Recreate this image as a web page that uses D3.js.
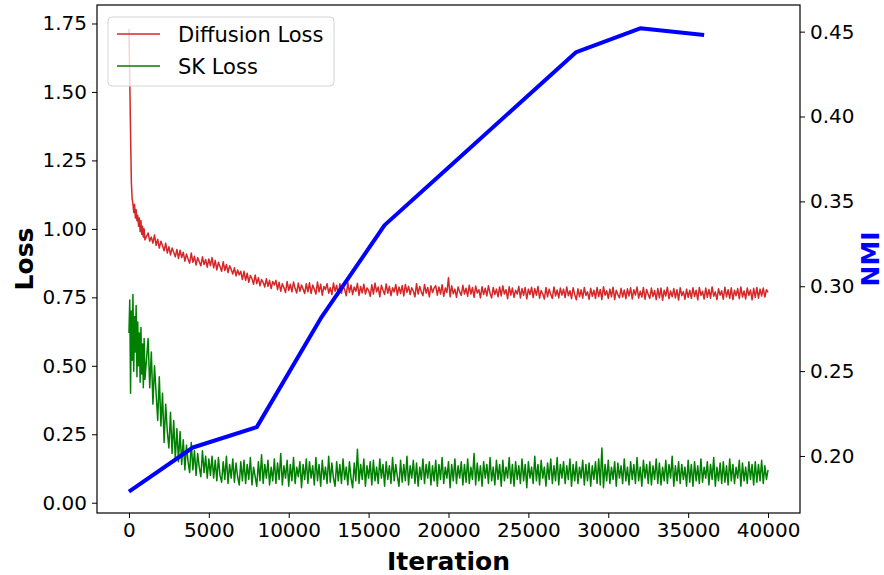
<!DOCTYPE html>
<html>
<head>
<meta charset="utf-8">
<script src="https://cdn.jsdelivr.net/npm/d3@7"></script>
<style>
  body { margin: 0; background: #fff; }
  text { font-family: "DejaVu Sans", sans-serif; }
</style>
</head>
<body>
<div id="canvas"></div>
<script>
// iterations: every 50 up to 1000, then every 100
const iterations = d3.range(0, 1001, 50).concat(d3.range(1200, 40001, 100));

const diffusionLoss = [
  1.73, 1.55, 1.35, 1.17, 1.11, 1.09, 1.06, 1.09, 1.04, 1.07, 1.03, 1.05, 1.01, 1.04, 0.99, 1.03, 0.98, 1.01, 0.97, 1.00, 0.96,
  0.985, 0.955, 0.970, 0.948, 0.978, 0.940, 0.962, 0.930, 0.955, 0.938, 0.920, 0.948, 0.912, 0.935, 0.905, 0.930, 0.915, 0.898, 0.925, 0.892,
  0.922, 0.895, 0.915, 0.882, 0.908, 0.890, 0.875, 0.912, 0.878, 0.900, 0.868, 0.895, 0.880, 0.865, 0.898, 0.870, 0.888, 0.860, 0.890, 0.866,
  0.895, 0.858, 0.885, 0.850, 0.878, 0.862, 0.845, 0.880, 0.848, 0.870, 0.840, 0.865, 0.852, 0.835, 0.858, 0.828, 0.850, 0.832, 0.845, 0.815,
  0.845, 0.812, 0.838, 0.805, 0.830, 0.818, 0.798, 0.832, 0.800, 0.822, 0.792, 0.815, 0.805, 0.788, 0.818, 0.790, 0.812, 0.782, 0.808, 0.795,
  0.812, 0.778, 0.805, 0.772, 0.800, 0.785, 0.768, 0.808, 0.775, 0.798, 0.770, 0.806, 0.782, 0.766, 0.802, 0.772, 0.795, 0.780, 0.764, 0.800,
  0.770, 0.803, 0.764, 0.795, 0.780, 0.762, 0.806, 0.770, 0.798, 0.758, 0.790, 0.778, 0.800, 0.765, 0.785, 0.760, 0.802, 0.772, 0.794, 0.758,
  0.800, 0.765, 0.792, 0.778, 0.756, 0.804, 0.768, 0.795, 0.760, 0.788, 0.772, 0.801, 0.757, 0.790, 0.766, 0.798, 0.762, 0.784, 0.775, 0.754,
  0.796, 0.762, 0.802, 0.770, 0.788, 0.752, 0.794, 0.776, 0.760, 0.799, 0.765, 0.790, 0.756, 0.785, 0.770, 0.797, 0.758, 0.788, 0.764, 0.793,
  0.755, 0.797, 0.768, 0.790, 0.760, 0.785, 0.772, 0.752, 0.800, 0.762, 0.790, 0.770, 0.756, 0.797, 0.765, 0.786, 0.752, 0.792, 0.768, 0.784,
  0.793, 0.758, 0.788, 0.762, 0.796, 0.754, 0.784, 0.768, 0.822, 0.752, 0.792, 0.763, 0.780, 0.750, 0.788, 0.770, 0.757, 0.794, 0.762, 0.783,
  0.754, 0.794, 0.762, 0.786, 0.750, 0.791, 0.766, 0.778, 0.748, 0.789, 0.760, 0.783, 0.755, 0.792, 0.765, 0.748, 0.786, 0.760, 0.780, 0.752,
  0.788, 0.755, 0.792, 0.762, 0.778, 0.745, 0.789, 0.758, 0.784, 0.750, 0.776, 0.762, 0.790, 0.748, 0.782, 0.757, 0.786, 0.744, 0.780, 0.760,
  0.787, 0.749, 0.782, 0.758, 0.790, 0.747, 0.775, 0.762, 0.744, 0.786, 0.752, 0.780, 0.760, 0.746, 0.788, 0.755, 0.777, 0.748, 0.784, 0.758,
  0.780, 0.749, 0.788, 0.756, 0.774, 0.745, 0.785, 0.760, 0.741, 0.781, 0.752, 0.778, 0.747, 0.786, 0.757, 0.770, 0.743, 0.783, 0.754, 0.776,
  0.746, 0.786, 0.753, 0.779, 0.742, 0.789, 0.758, 0.774, 0.746, 0.780, 0.752, 0.787, 0.742, 0.776, 0.760, 0.748, 0.783, 0.751, 0.777, 0.745,
  0.781, 0.755, 0.785, 0.744, 0.778, 0.758, 0.788, 0.747, 0.772, 0.751, 0.786, 0.743, 0.779, 0.760, 0.746, 0.784, 0.753, 0.775, 0.742, 0.782,
  0.748, 0.784, 0.739, 0.776, 0.755, 0.787, 0.745, 0.773, 0.752, 0.782, 0.748, 0.778, 0.740, 0.785, 0.756, 0.771, 0.743, 0.780, 0.750, 0.776,
  0.746, 0.785, 0.753, 0.776, 0.741, 0.786, 0.757, 0.772, 0.744, 0.784, 0.750, 0.779, 0.747, 0.788, 0.754, 0.770, 0.742, 0.781, 0.758, 0.774,
  0.743, 0.787, 0.752, 0.778, 0.746, 0.785, 0.742, 0.776, 0.756, 0.782, 0.745, 0.788, 0.751, 0.773, 0.744, 0.784, 0.757, 0.777, 0.741, 0.783,
  0.750, 0.786, 0.747, 0.780, 0.755, 0.784, 0.751, 0.778, 0.768
];

const skLoss = [
  0.62, 0.74, 0.40, 0.70, 0.52, 0.76, 0.48, 0.68, 0.55, 0.72, 0.46, 0.66, 0.50, 0.62, 0.44, 0.64, 0.47, 0.58, 0.42, 0.60, 0.45,
  0.60, 0.42, 0.55, 0.36, 0.50, 0.40, 0.30, 0.46, 0.28, 0.40, 0.22, 0.36, 0.26, 0.20, 0.33, 0.18, 0.30, 0.16, 0.27, 0.15,
  0.26, 0.14, 0.23, 0.12, 0.21, 0.15, 0.11, 0.22, 0.12, 0.19, 0.10, 0.18, 0.13, 0.095, 0.19, 0.11, 0.17, 0.09, 0.16, 0.10,
  0.17, 0.09, 0.155, 0.08, 0.165, 0.10, 0.075, 0.15, 0.085, 0.17, 0.07, 0.14, 0.09, 0.16, 0.075, 0.145, 0.095, 0.065, 0.15, 0.08,
  0.155, 0.07, 0.14, 0.085, 0.165, 0.065, 0.13, 0.095, 0.06, 0.15, 0.08, 0.175, 0.07, 0.14, 0.09, 0.155, 0.065, 0.13, 0.08, 0.16,
  0.07, 0.145, 0.085, 0.18, 0.065, 0.135, 0.09, 0.155, 0.06, 0.14, 0.08, 0.165, 0.07, 0.13, 0.095, 0.15, 0.055, 0.14, 0.085, 0.16,
  0.07, 0.15, 0.09, 0.135, 0.065, 0.165, 0.08, 0.14, 0.06, 0.155, 0.085, 0.13, 0.07, 0.17, 0.075, 0.145, 0.09, 0.06, 0.15, 0.08,
  0.14, 0.07, 0.16, 0.085, 0.13, 0.065, 0.15, 0.09, 0.055, 0.145, 0.08, 0.195, 0.07, 0.14, 0.085, 0.16, 0.06, 0.135, 0.09, 0.15,
  0.065, 0.155, 0.08, 0.13, 0.07, 0.16, 0.09, 0.14, 0.06, 0.15, 0.085, 0.135, 0.07, 0.165, 0.08, 0.14, 0.095, 0.06, 0.155, 0.075,
  0.14, 0.08, 0.17, 0.065, 0.135, 0.09, 0.155, 0.07, 0.145, 0.06, 0.13, 0.085, 0.16, 0.07, 0.14, 0.09, 0.15, 0.065, 0.135, 0.08,
  0.155, 0.06, 0.14, 0.085, 0.165, 0.07, 0.13, 0.09, 0.15, 0.055, 0.14, 0.08, 0.16, 0.07, 0.135, 0.09, 0.15, 0.065, 0.14, 0.075,
  0.16, 0.07, 0.13, 0.085, 0.18, 0.065, 0.145, 0.08, 0.135, 0.06, 0.15, 0.09, 0.14, 0.07, 0.165, 0.08, 0.13, 0.065, 0.155, 0.085,
  0.14, 0.06, 0.155, 0.08, 0.13, 0.09, 0.165, 0.07, 0.14, 0.06, 0.15, 0.085, 0.135, 0.07, 0.16, 0.08, 0.14, 0.055, 0.15, 0.09,
  0.13, 0.07, 0.17, 0.08, 0.14, 0.065, 0.155, 0.09, 0.13, 0.06, 0.145, 0.085, 0.16, 0.07, 0.135, 0.08, 0.165, 0.065, 0.14, 0.09,
  0.15, 0.07, 0.135, 0.085, 0.16, 0.06, 0.14, 0.08, 0.15, 0.07, 0.13, 0.09, 0.155, 0.065, 0.14, 0.08, 0.145, 0.06, 0.135, 0.085,
  0.15, 0.07, 0.16, 0.065, 0.20, 0.055, 0.14, 0.08, 0.155, 0.07, 0.13, 0.085, 0.15, 0.06, 0.145, 0.09, 0.135, 0.07, 0.16, 0.08,
  0.13, 0.065, 0.15, 0.085, 0.14, 0.07, 0.165, 0.08, 0.13, 0.06, 0.155, 0.09, 0.14, 0.07, 0.15, 0.065, 0.135, 0.085, 0.16, 0.07,
  0.145, 0.065, 0.13, 0.08, 0.155, 0.07, 0.14, 0.09, 0.17, 0.06, 0.135, 0.08, 0.15, 0.07, 0.14, 0.085, 0.13, 0.06, 0.155, 0.075,
  0.14, 0.06, 0.15, 0.08, 0.135, 0.07, 0.16, 0.075, 0.13, 0.09, 0.15, 0.065, 0.14, 0.085, 0.165, 0.06, 0.13, 0.08, 0.145, 0.07,
  0.15, 0.075, 0.135, 0.065, 0.16, 0.08, 0.14, 0.07, 0.13, 0.09, 0.155, 0.06, 0.145, 0.08, 0.13, 0.07, 0.15, 0.085, 0.14, 0.065,
  0.15, 0.075, 0.14, 0.08, 0.155, 0.07, 0.135, 0.085, 0.12
];

const nmiIterations = [0, 4000, 8000, 12000, 16000, 20000, 24000, 28000, 32000, 36000];
const nmiValues = [0.179, 0.205, 0.217, 0.281, 0.336, 0.370, 0.404, 0.438, 0.452, 0.448];

const xTicks = d3.range(0, 40001, 5000);
const lossTicks = [0, 0.25, 0.5, 0.75, 1.0, 1.25, 1.5, 1.75];
const nmiTicks = [0.20, 0.25, 0.30, 0.35, 0.40, 0.45];

const width = 884;
const height = 575;
const margin = { top: 5, left: 97, bottom: 62, right: 84 };
const iwidth = width - margin.left - margin.right;
const iheight = height - margin.top - margin.bottom;

const svg = d3.select("#canvas").append("svg")
  .attr("width", width)
  .attr("height", height);

svg.append("rect").attr("width", width).attr("height", height).attr("fill", "#fff");

const g1 = svg.append("g").attr("transform", `translate(${margin.left},${margin.top})`);

const x = d3.scaleLinear().domain([-2000, 42000]).range([0, iwidth]);
const y = d3.scaleLinear().domain([-0.0375, 1.8175]).range([iheight, 0]);
const y2 = d3.scaleLinear().domain([0.1664, 0.4657]).range([iheight, 0]);

const lossLine = d3.line()
  .x((d, i) => x(iterations[i]))
  .y(d => y(d));

g1.append("path")
  .datum(diffusionLoss)
  .attr("fill", "none")
  .attr("stroke", "#d62728")
  .attr("stroke-width", 1.5)
  .attr("stroke-linejoin", "round")
  .attr("d", lossLine);

g1.append("path")
  .datum(skLoss)
  .attr("fill", "none")
  .attr("stroke", "#008000")
  .attr("stroke-width", 1.5)
  .attr("stroke-linejoin", "round")
  .attr("d", lossLine);

// legend
const legend = g1.append("g").attr("transform", "translate(11,12)");
legend.append("rect")
  .attr("width", 226)
  .attr("height", 69)
  .attr("rx", 4)
  .attr("fill", "#fff")
  .attr("fill-opacity", 0.8)
  .attr("stroke", "#d3d3d3");
const legendItems = [["Diffusion Loss", "#d62728"], ["SK Loss", "#008000"]];
legendItems.forEach((item, i) => {
  legend.append("line")
    .attr("x1", 9).attr("x2", 52)
    .attr("y1", 17 + i * 32).attr("y2", 17 + i * 32)
    .attr("stroke", item[1])
    .attr("stroke-width", 1.5);
  legend.append("text")
    .attr("x", 70)
    .attr("y", 17 + i * 32)
    .attr("dy", "0.36em")
    .style("font-size", "21px")
    .text(item[0]);
});

g1.append("path")
  .datum(nmiValues)
  .attr("fill", "none")
  .attr("stroke", "#0000ff")
  .attr("stroke-width", 4)
  .attr("stroke-linejoin", "round")
  .attr("d", d3.line().x((d, i) => x(nmiIterations[i])).y(d => y2(d)));

// axes
const xAxis = g1.append("g")
  .attr("transform", `translate(0, ${iheight})`)
  .call(d3.axisBottom(x).tickValues(xTicks).tickFormat(d3.format("d")).tickSize(5).tickPadding(5).tickSizeOuter(0));

const yAxis = g1.append("g")
  .call(d3.axisLeft(y).tickValues(lossTicks).tickFormat(d3.format(".2f")).tickSize(5).tickPadding(5).tickSizeOuter(0));

const y2Axis = g1.append("g")
  .attr("transform", `translate(${iwidth}, 0)`)
  .call(d3.axisRight(y2).tickValues(nmiTicks).tickFormat(d3.format(".2f")).tickSize(5).tickPadding(5).tickSizeOuter(0));

[xAxis, yAxis, y2Axis].forEach(a => {
  a.select(".domain").remove();
  a.selectAll("text").style("font-size", "20px").style("font-family", "DejaVu Sans").attr("fill", "#000");
  a.selectAll("line").attr("stroke", "#000");
});

g1.append("rect")
  .attr("width", iwidth)
  .attr("height", iheight)
  .attr("fill", "none")
  .attr("stroke", "#000")
  .attr("stroke-width", 1.2);

svg.append("text")
  .attr("x", margin.left + iwidth / 2)
  .attr("y", 570)
  .attr("text-anchor", "middle")
  .style("font-size", "25px")
  .style("font-weight", "bold")
  .text("Iteration");

svg.append("text")
  .attr("transform", `translate(33, ${margin.top + iheight / 2}) rotate(-90)`)
  .attr("text-anchor", "middle")
  .style("font-size", "25px")
  .style("font-weight", "bold")
  .text("Loss");

svg.append("text")
  .attr("transform", `translate(879, ${margin.top + iheight / 2}) rotate(-90)`)
  .attr("text-anchor", "middle")
  .attr("fill", "#0000ff")
  .style("font-size", "25px")
  .style("font-weight", "bold")
  .text("NMI");
</script>
</body>
</html>
